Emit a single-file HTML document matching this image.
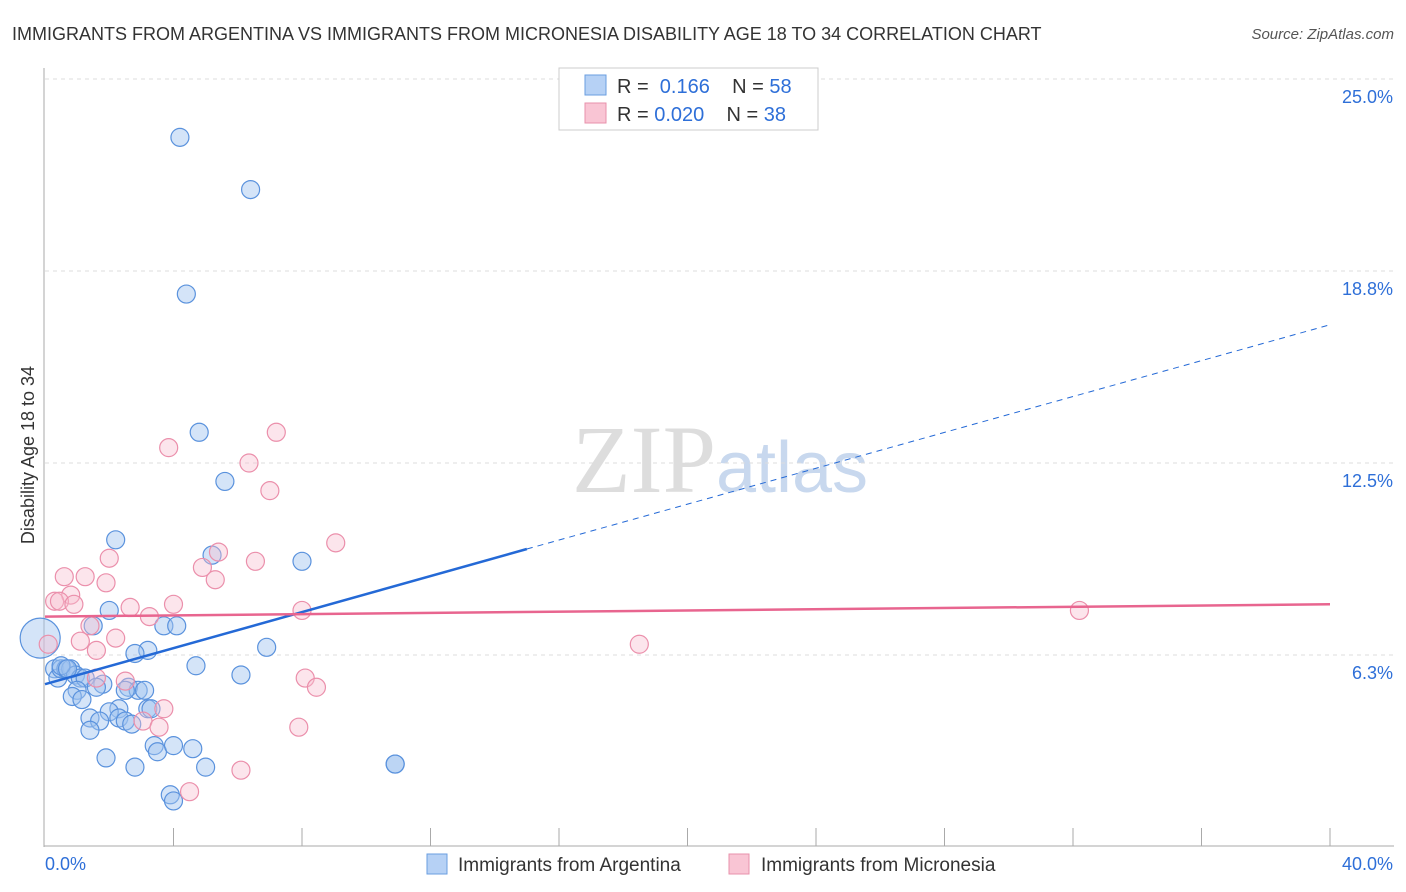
<!DOCTYPE html>
<html><head><meta charset="utf-8"><style>
body{margin:0;background:#fff;font-family:"Liberation Sans",sans-serif}
svg{display:block}
</style></head><body>
<svg width="1406" height="892" xmlns="http://www.w3.org/2000/svg">
<text x="12" y="40" font-size="18" fill="#333">IMMIGRANTS FROM ARGENTINA VS IMMIGRANTS FROM MICRONESIA DISABILITY AGE 18 TO 34 CORRELATION CHART</text>
<text x="1394" y="39" font-size="15" fill="#555" font-style="italic" text-anchor="end">Source: ZipAtlas.com</text>
<text x="720" y="492" font-size="96" fill="#ddd" text-anchor="middle" font-family="Liberation Serif,serif">ZIP<tspan fill="#c8d8ee" font-family="Liberation Sans,sans-serif" font-size="72">atlas</tspan></text>
<g id="grid"></g>
<g id="axes"></g>
<g id="marks"></g>
<text x="34" y="455" font-size="18" fill="#333" text-anchor="middle" transform="rotate(-90 34 455)">Disability Age 18 to 34</text>
<g>
<rect x="559" y="68" width="259" height="62" fill="#fff" stroke="#ccc"/>
<rect x="585" y="75" width="21" height="20" fill="#b6d1f5" stroke="#6a9ee0"/>
<rect x="585" y="103" width="21" height="20" fill="#f9c5d4" stroke="#e891ab"/>
<text x="617" y="93" font-size="20" fill="#333">R = <tspan fill="#2e6fd8">&#160;0.166</tspan>&#160;&#160;&#160;&#160;N = <tspan fill="#2e6fd8">58</tspan></text>
<text x="617" y="121" font-size="20" fill="#333">R = <tspan fill="#2e6fd8">0.020</tspan>&#160;&#160;&#160;&#160;N = <tspan fill="#2e6fd8">38</tspan></text>
</g>
<g>
<rect x="427" y="854" width="20" height="20" fill="#b6d1f5" stroke="#6a9ee0"/>
<text x="458" y="871" font-size="19" fill="#333">Immigrants from Argentina</text>
<rect x="729" y="854" width="20" height="20" fill="#f9c5d4" stroke="#e891ab"/>
<text x="761" y="871" font-size="19" fill="#333">Immigrants from Micronesia</text>
</g>
</svg>
<script>
const yTicks=[6.25,12.5,18.75,25];
const yTickLabels=["6.3%","12.5%","18.8%","25.0%"];
const xLabels=["0.0%","40.0%"];
const blueX=[4.2,6.4,4.4,4.8,5.6,2.2,5.2,8.0,2.0,1.5,3.7,4.1,3.2,2.8,6.9,4.7,6.1,0.3,0.4,0.5,0.65,0.8,0.95,1.1,1.25,1.8,1.6,1.0,0.85,1.15,2.6,2.9,3.1,2.3,2.0,3.2,3.3,1.4,1.7,2.3,2.5,2.7,1.4,3.4,3.5,4.0,4.6,1.9,2.8,5.0,3.9,4.0,10.9,10.9,-0.15,0.5,0.7,2.5];
const blueY=[23.1,21.4,18.0,13.5,11.9,10.0,9.5,9.3,7.7,7.2,7.2,7.2,6.4,6.3,6.5,5.9,5.6,5.8,5.5,5.8,5.8,5.8,5.6,5.5,5.5,5.3,5.2,5.1,4.9,4.8,5.2,5.1,5.1,4.5,4.4,4.5,4.5,4.2,4.1,4.2,4.1,4.0,3.8,3.3,3.1,3.3,3.2,2.9,2.6,2.6,1.7,1.5,2.7,2.7,6.8,5.9,5.8,5.1];
const blueR=[9,9,9,9,9,9,9,9,9,9,9,9,9,9,9,9,9,9,9,9,9,9,9,9,9,9,9,9,9,9,9,9,9,9,9,9,9,9,9,9,9,9,9,9,9,9,9,9,9,9,9,9,9,9,20,9,9,9];
const pinkX=[3.85,7.2,6.35,7.0,9.05,2.0,5.4,6.55,4.9,0.6,1.25,1.9,5.3,0.8,0.3,0.45,0.9,2.65,4.0,8.0,3.25,1.4,2.2,1.1,1.6,0.1,32.2,18.5,8.1,8.45,1.6,2.5,3.05,3.55,3.7,7.9,6.1,4.5];
const pinkY=[13.0,13.5,12.5,11.6,9.9,9.4,9.6,9.3,9.1,8.8,8.8,8.6,8.7,8.2,8.0,8.0,7.9,7.8,7.9,7.7,7.5,7.2,6.8,6.7,6.4,6.6,7.7,6.6,5.5,5.2,5.5,5.4,4.1,3.9,4.5,3.9,2.5,1.8];
const blueTrend=[[0,5.3],[15,9.7],[40,17.0]];
const pinkTrend=[[0,7.5],[40,7.9]];
const X=v=>45+v/40*1285, Y=v=>847-v/6.25*192;
const NS="http://www.w3.org/2000/svg";
function mk(t,a,p){const e=document.createElementNS(NS,t);for(const k in a)e.setAttribute(k,a[k]);p.appendChild(e);return e;}
const grid=document.getElementById('grid'),axes=document.getElementById('axes'),marks=document.getElementById('marks');
yTicks.forEach((v,i)=>{
 const l=mk('line',{x1:45,x2:1394,y1:Y(v),y2:Y(v),stroke:'#ddd','stroke-dasharray':'4 4'},grid);
 
 
 const t=mk('text',{x:1393,y:Y(v)+24,'font-size':18,fill:'#2e6fd8','text-anchor':'end'},axes);
 t.textContent=yTickLabels[i];
 
 
});
const ax=mk('line',{x1:44,x2:44,y1:68,y2:847,stroke:'#aaa'},axes);


const bx=mk('line',{x1:44,x2:1394,y1:846,y2:846,stroke:'#aaa'},axes);


for(let i=1;i<=10;i++){const tk=mk('line',{x1:X(i*4),x2:X(i*4),y1:828,y2:846,stroke:'#aaa'},axes);
 
 }
[[45,'start'],[1393,'end']].forEach((p,i)=>{const t=mk('text',{x:p[0],y:870,'font-size':18,fill:'#2e6fd8','text-anchor':p[1]},axes);t.textContent=xLabels[i];
 
 });
blueX.forEach((v,i)=>{const c=mk('circle',{cx:X(v),cy:Y(blueY[i]),r:blueR[i],fill:'rgba(160,196,240,0.45)',stroke:'#5a92dd','stroke-width':1.2},marks);
 
 });
pinkX.forEach((v,i)=>{const c=mk('circle',{cx:X(v),cy:Y(pinkY[i]),r:9,fill:'rgba(248,190,208,0.4)',stroke:'#eb8fab','stroke-width':1.2},marks);
 
 });
const b1=mk('line',{x1:X(blueTrend[0][0]),y1:Y(blueTrend[0][1]),x2:X(blueTrend[1][0]),y2:Y(blueTrend[1][1]),stroke:'#2469d6','stroke-width':2.5},marks);


const b2=mk('line',{x1:X(blueTrend[1][0]),y1:Y(blueTrend[1][1]),x2:X(blueTrend[2][0]),y2:Y(blueTrend[2][1]),stroke:'#2469d6','stroke-width':1,'stroke-dasharray':'6 5'},marks);


const p1=mk('line',{x1:X(pinkTrend[0][0]),y1:Y(pinkTrend[0][1]),x2:X(pinkTrend[1][0]),y2:Y(pinkTrend[1][1]),stroke:'#e8658f','stroke-width':2.5},marks);


</script>
</body></html>
